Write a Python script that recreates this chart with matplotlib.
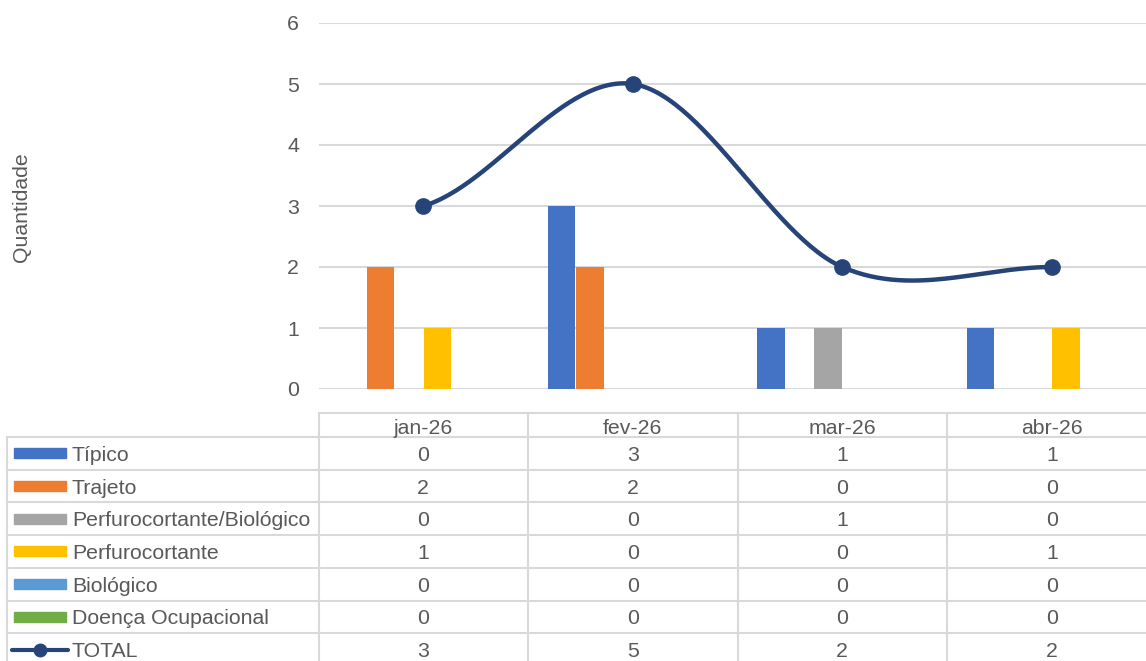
import matplotlib.pyplot as plt
from matplotlib.transforms import blended_transform_factory
import numpy as np

plt.rcParams['font.family'] = ['Liberation Sans', 'DejaVu Sans']

months = ['jan-26', 'fev-26', 'mar-26', 'abr-26']
series = ['Típico', 'Trajeto', 'Perfurocortante/Biológico', 'Perfurocortante',
          'Biológico', 'Doença Ocupacional']
tipico = [0, 3, 1, 1]
trajeto = [2, 2, 0, 0]
perf_bio = [0, 0, 1, 0]
perf = [1, 0, 0, 1]
biologico = [0, 0, 0, 0]
doenca = [0, 0, 0, 0]
total = [3, 5, 2, 2]
colors = ['#4472C4', '#ED7D31', '#A5A5A5', '#FFC000', '#5B9BD5', '#70AD47']
line_color = '#264478'
text_color = '#595959'
grid_color = '#d9d9d9'
fs = 15.3

W, H = 1146, 661
fig = plt.figure(figsize=(W / 100, H / 100), dpi=100)

# chart area (right edge of last category is cut off like the original)
left, right, bottom, top = 318.5, 1156.5, 389, 23
ax = fig.add_axes([left / W, 1 - bottom / H, (right - left) / W, (bottom - top) / H])
x = np.arange(len(months))
values = [tipico, trajeto, perf_bio, perf, biologico, doenca]
slot = 0.136
for k, (vals, c) in enumerate(zip(values, colors)):
    ax.bar(x + (k - 2.5) * slot, vals, width=slot * 0.95, color=c, zorder=3)


def smooth(xs, ys, n=60):
    # catmull-rom curve through points, like excel's smoothed line
    ys = np.asarray(ys, dtype=float)
    px, py = [], []
    for i in range(len(ys) - 1):
        p0 = ys[max(i - 1, 0)]
        p1, p2 = ys[i], ys[i + 1]
        p3 = ys[min(i + 2, len(ys) - 1)]
        m1 = (p2 - p0) / 2
        m2 = (p3 - p1) / 2
        t = np.linspace(0, 1, n)
        h00 = 2 * t**3 - 3 * t**2 + 1
        h10 = t**3 - 2 * t**2 + t
        h01 = -2 * t**3 + 3 * t**2
        h11 = t**3 - t**2
        px.extend(xs[i] + t)
        py.extend(h00 * p1 + h10 * m1 + h01 * p2 + h11 * m2)
    return px, py


sx, sy = smooth(x, total)
ax.plot(sx, sy, color=line_color, lw=3.2, zorder=4, solid_capstyle='round')
ax.plot(x, total, 'o', color=line_color, ms=11, zorder=5)

ax.set_xlim(-0.5, len(months) - 0.5)
ax.set_ylim(0, 6)
ax.set_yticks(range(7))
ax.set_xticks([])
ax.grid(axis='y', color=grid_color, lw=1.5, zorder=0)
ax.tick_params(axis='y', length=0, pad=14, labelsize=fs, labelcolor=text_color)
for s in ax.spines.values():
    s.set_visible(False)
fig.text(22 / W, 1 - 207 / H, 'Quantidade', rotation=90, ha='center', va='center',
         fontsize=fs, color=text_color)

# data table below, in pixel coordinates for y
tab = fig.add_axes([0, 0, 1, 1], zorder=-1)
tab.set_xlim(0, W)
tab.set_ylim(H, 0)
tab.axis('off')
bt = blended_transform_factory(ax.transData, tab.transData)

head_top, head_bot, row_h = 413, 437, 32.7
n_rows = len(series) + 1
row_edges = [head_bot + i * row_h for i in range(n_rows + 1)]
lw = 1.5

tab.plot([left, W], [head_top, head_top], color=grid_color, lw=lw)
for y in row_edges[:-1]:
    tab.plot([7, W], [y, y], color=grid_color, lw=lw)
tab.plot([7, 7], [head_bot, H], color=grid_color, lw=lw)
for b in np.arange(len(months)) - 0.5:
    tab.plot([b, b], [head_top, H], color=grid_color, lw=lw, transform=bt)

for i, m in enumerate(months):
    tab.text(i, (head_top + head_bot) / 2 + 1, m, transform=bt, ha='center',
             va='center_baseline', fontsize=fs, color=text_color)

rows = values + [total]
names = series + ['TOTAL']
for r, (name, vals) in enumerate(zip(names, rows)):
    yc = (row_edges[r] + row_edges[r + 1]) / 2
    if r < len(series):
        tab.add_patch(plt.Rectangle((14, yc - 5), 52, 10, color=colors[r]))
    else:
        tab.plot([12, 68], [yc, yc], color=line_color, lw=3, solid_capstyle='round')
        tab.plot([40], [yc], 'o', color=line_color, ms=9)
    tab.text(72, yc, name, ha='left', va='center_baseline', fontsize=fs, color=text_color)
    for i, v in enumerate(vals):
        tab.text(i, yc, str(v), transform=bt, ha='center', va='center_baseline',
                 fontsize=fs, color=text_color)

fig.savefig('out.png', dpi=100, facecolor='white')
